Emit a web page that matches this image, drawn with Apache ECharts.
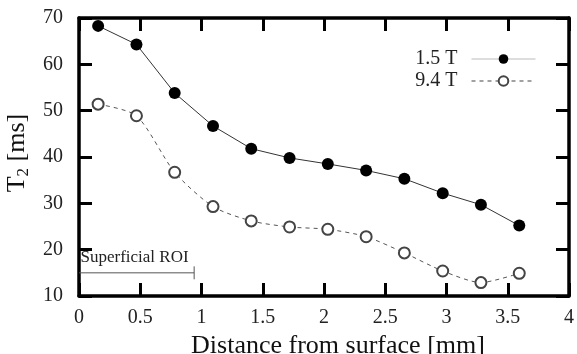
<!DOCTYPE html>
<html><head><meta charset="utf-8">
<script src="https://cdn.jsdelivr.net/npm/echarts@6/dist/echarts.min.js"></script>
<style>html,body{margin:0;padding:0;background:#fff}#c{width:577px;height:354px}</style>
</head><body><div id="c"></div>
<script>
const distance = [0.156, 0.469, 0.781, 1.094, 1.406, 1.719, 2.031, 2.344, 2.656, 2.969, 3.281, 3.594];
const t2_15T = [68.3, 64.3, 53.8, 46.7, 41.8, 39.8, 38.5, 37.1, 35.3, 32.2, 29.7, 25.2];
const t2_94T = [51.4, 48.9, 36.7, 29.3, 26.2, 24.9, 24.4, 22.8, 19.3, 15.4, 12.9, 14.9];
const seriesNames = ['1.5 T', '9.4 T'];
const roiStart = 0, roiEnd = 0.94, roiLevel = 15, roiTick = 1.4;
const roiText = 'Superficial ROI';
const xTicks = {min: 0, max: 4, interval: 0.5};
const yTicks = {min: 10, max: 70, interval: 10};

const serif = '"Liberation Serif","DejaVu Serif",serif';
const pair = (xs, ys) => xs.map((x, i) => [x, ys[i]]);
const chart = echarts.init(document.getElementById('c'), null, {renderer: 'canvas'});
const axisCommon = {
  axisLine: {show: true, onZero: false, lineStyle: {color: '#000', width: 3.5}},
  axisTick: {show: true, inside: true, length: 13, lineStyle: {color: '#000', width: 3}},
  splitLine: {show: false}
};
chart.setOption({
  animation: false,
  grid: {left: 79, right: 8, top: 18, bottom: 58, containLabel: false, outerBoundsMode: 'none'},
  xAxis: [
    Object.assign({type: 'value', position: 'bottom', min: xTicks.min, max: xTicks.max, interval: xTicks.interval,
      axisLabel: {color: '#222', fontFamily: serif, fontSize: 20, margin: 12},
      name: 'Distance from surface [mm]', nameLocation: 'middle', nameGap: 37,
      nameTextStyle: {color: '#111', fontFamily: serif, fontSize: 26, padding: [0, 0, 0, 28]}}, axisCommon),
    Object.assign({type: 'value', position: 'top', min: xTicks.min, max: xTicks.max, interval: xTicks.interval,
      axisLabel: {show: false}}, axisCommon)
  ],
  yAxis: [
    Object.assign({type: 'value', position: 'left', min: yTicks.min, max: yTicks.max, interval: yTicks.interval,
      axisLabel: {color: '#222', fontFamily: serif, fontSize: 20, margin: 16},
      name: 'T{s|2} [ms]', nameLocation: 'middle', nameGap: 45, nameRotate: 90,
      nameTextStyle: {color: '#111', fontFamily: serif, fontSize: 26, padding: [0, 0, 0, 8],
        rich: {s: {fontFamily: serif, fontSize: 17, verticalAlign: 'bottom', padding: [12, 0, 0, 0], color: '#111'}}}}, axisCommon),
    Object.assign({type: 'value', position: 'right', min: yTicks.min, max: yTicks.max, interval: yTicks.interval,
      axisLabel: {show: false}}, axisCommon)
  ],
  legend: {
    orient: 'vertical', align: 'right', right: 36, top: 44, itemWidth: 64, itemHeight: 12, itemGap: 2,
    textStyle: {color: '#222', fontFamily: serif, fontSize: 20, padding: [0, 9, 0, 0]},
    data: [
      {name: seriesNames[0], lineStyle: {color: '#bbb', width: 1, type: 'solid'}},
      {name: seriesNames[1], lineStyle: {color: '#444', width: 1, type: [4, 4]}}
    ]
  },
  series: [
    {name: seriesNames[0], type: 'line', data: pair(distance, t2_15T), symbol: 'circle', symbolSize: 12,
      itemStyle: {color: '#000'}, lineStyle: {color: '#333', width: 1}, z: 3},
    {name: seriesNames[1], type: 'line', data: pair(distance, t2_94T), symbol: 'emptyCircle', symbolSize: 11,
      smooth: 0.25,
      itemStyle: {color: '#444', borderWidth: 1}, lineStyle: {color: '#555', width: 1, type: [4, 4]}, z: 3},
    {type: 'line', data: [
        {value: [roiStart, roiLevel], label: {show: true, formatter: roiText, position: [2, -23], color: '#222', fontFamily: serif, fontSize: 17}},
        [roiEnd, roiLevel]],
      symbol: 'circle', symbolSize: 1, itemStyle: {color: 'rgba(0,0,0,0)'},
      lineStyle: {color: '#555', width: 1}, silent: true},
    {type: 'line', data: [[roiEnd, roiLevel - roiTick], [roiEnd, roiLevel + roiTick]],
      symbol: 'none', lineStyle: {color: '#555', width: 1}, silent: true}
  ]
});
</script></body></html>
